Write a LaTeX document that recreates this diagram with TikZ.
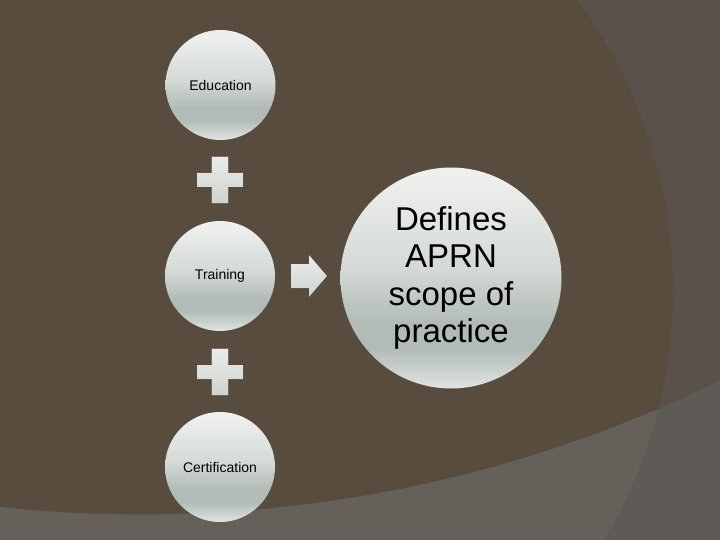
\documentclass[tikz,border=0pt]{standalone}
\usepackage{fontspec}
\setmainfont{Liberation Sans}
\definecolor{bgbrown}{RGB}{88,76,62}
\definecolor{bgright}{RGB}{90,82,74}
\definecolor{bandin}{RGB}{102,96,90}
\definecolor{bandout}{RGB}{94,91,87}
\definecolor{orbT}{RGB}{238,240,238}
\definecolor{orbM}{RGB}{212,217,214}
\definecolor{orbD}{RGB}{178,188,183}
\definecolor{orbB}{RGB}{224,228,226}
\definecolor{shapeT}{RGB}{234,236,234}
\definecolor{shapeB}{RGB}{206,211,208}
\pgfdeclareverticalshading{orb}{100bp}{color(0bp)=(orbB); color(25bp)=(orbB); color(34bp)=(orbD); color(40bp)=(orbD); color(52bp)=(orbM); color(73bp)=(orbT); color(100bp)=(orbT)}
\begin{document}
\begin{tikzpicture}[x=1pt,y=-1pt,
  orbnode/.style={circle, shading=orb, draw=none, minimum size=110pt, inner sep=0pt,
    font=\fontsize{14}{16}\selectfont, text=black},
  bignode/.style={circle, shading=orb, draw=none, minimum size=221pt, inner sep=0pt,
    align=center, font=\fontsize{33}{37.5}\selectfont, text=black},
  shapefill/.style={top color=shapeT, bottom color=shapeB, draw=none}]
\useasboundingbox (0,0) rectangle (720,540);
\clip (0,0) rectangle (720,540);
% background
\fill[bgright] (0,0) rectangle (720,540);
\fill[bgbrown] (187,290) circle[radius=486];
\def\bandpath{(-5,-5) rectangle (725,545) (141.3,-799) circle[radius=1313.6]}
\fill[bandout, even odd rule] \bandpath;
\begin{scope}
  \clip (187,290) circle[radius=486];
  \fill[bandin, even odd rule] \bandpath;
\end{scope}
% nodes
\node[orbnode] (edu) at (220.5,85) {Education};
\node[orbnode] (train) at (220,276) {Training};
\node[orbnode] (cert) at (220,467) {Certification};
\node[bignode] (aprn) at (451,278) {Defines\\APRN\\scope of\\practice};
% plus signs and arrow
\coordinate (plusA) at (220,180);
\coordinate (plusB) at (220,372);
\coordinate (arr) at (309,276);
\foreach \p in {plusA,plusB}{
  \fill[shapefill, shift={(\p)}] (-8.3,-23.3) -- (8.3,-23.3) -- (8.3,-7) -- (23,-7) -- (23,7) -- (8.3,7)
    -- (8.3,23.3) -- (-8.3,23.3) -- (-8.3,7) -- (-23,7) -- (-23,-7) -- (-8.3,-7) -- cycle;
}
\fill[shapefill, shift={(arr)}] (-18,-12) -- (0,-12) -- (0,-21) -- (18,0) -- (0,21) -- (0,12) -- (-18,12) -- cycle;
\end{tikzpicture}
\end{document}
